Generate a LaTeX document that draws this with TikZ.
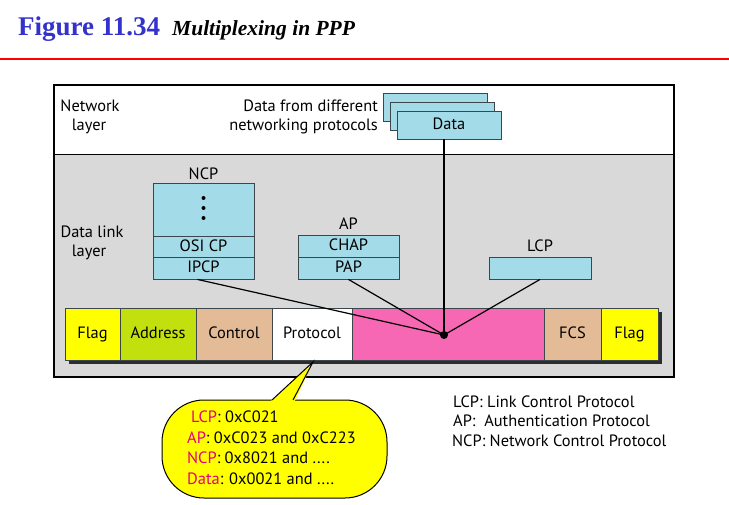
\documentclass[tikz,border=0pt]{standalone}
\usepackage{fontspec}
\setmainfont{PT Sans}
\newfontfamily\titlefont{Liberation Serif}
\definecolor{titleblue}{RGB}{51,51,204}
\definecolor{boxblue}{RGB}{164,219,232}
\definecolor{boxedge}{RGB}{60,70,75}
\definecolor{bggray}{RGB}{217,217,217}
\definecolor{fyellow}{RGB}{255,255,0}
\definecolor{fgreen}{RGB}{194,224,14}
\definecolor{ftan}{RGB}{228,187,151}
\definecolor{fpink}{RGB}{246,104,180}
\definecolor{shadowgray}{RGB}{45,45,45}
\definecolor{lblmag}{RGB}{228,0,124}
\begin{document}
\begin{tikzpicture}[x=1pt,y=-1pt,
  txt/.style={inner sep=0pt, font=\fontsize{16.4}{19}\selectfont},
  bluebox/.style={draw=boxedge, fill=boxblue, line width=0.9pt, inner sep=0pt,
    font=\fontsize{16.4}{19}\selectfont, text height=11.5pt, text depth=2pt},
  field/.style={draw=boxedge, line width=0.8pt, inner sep=0pt, minimum height=52pt,
    font=\fontsize{16.4}{19}\selectfont, text height=11.5pt, text depth=3.5pt},
  conn/.style={line width=1.2pt, black},
]
\useasboundingbox (0,0) rectangle (729,505);
% title
\node[anchor=base west, inner sep=0pt, text=titleblue,
  font=\titlefont\bfseries\fontsize{27}{30}\selectfont] (fig) at (18,36) {Figure 11.34};
\node[anchor=base west, inner sep=0pt,
  font=\titlefont\bfseries\itshape\fontsize{21.5}{25}\selectfont] (ttl) at (172,36) {Multiplexing in PPP};
\draw[red, line width=1.3pt] (0,59) -- (729,59);
% layers
\fill[white] (54,85) rectangle (674,155);
\fill[bggray] (54,155) rectangle (674,377);
\draw[line width=1pt] (54,155) -- (674,155);
\draw[line width=1.2pt] (54,85) rectangle (674,377);
\node[txt, anchor=base] (netl1) at (90,112) {Network};
\node[txt, anchor=base] (netl2) at (89,131) {layer};
\node[txt, anchor=base] (dll1) at (92,238) {Data link};
\node[txt, anchor=base] (dll2) at (89,257) {layer};
% data boxes
\node[bluebox, minimum width=104pt, minimum height=28pt] (datab) at (435,107) {};
\node[bluebox, minimum width=104pt, minimum height=28pt] (datam) at (442,116) {};
\node[bluebox, minimum width=104pt, minimum height=28pt] (dataf) at (449,125) {Data};
\node[txt, anchor=base east] (dfd1) at (378,112) {Data from different};
\node[txt, anchor=base east] (dfd2) at (378,131) {networking protocols};
% NCP
\node[txt, anchor=base] (ncplbl) at (203.5,180) {NCP};
\node[bluebox, minimum width=101pt, minimum height=53pt] (ncptop) at (203.5,209.5) {};
\fill (203.5,198) circle (2pt) (203.5,208) circle (2pt) (203.5,218) circle (2pt);
\node[bluebox, minimum width=101pt, minimum height=21pt] (osicp) at (203.5,246.5) {OSI CP};
\node[bluebox, minimum width=101pt, minimum height=22pt] (ipcp) at (203.5,268) {IPCP};
% AP
\node[txt, anchor=base] (aplbl) at (348.5,230) {AP};
\node[bluebox, minimum width=101pt, minimum height=22pt] (chap) at (348.5,246) {CHAP};
\node[bluebox, minimum width=101pt, minimum height=22pt] (pap) at (348.5,268) {PAP};
% LCP
\node[txt, anchor=base] (lcplbl) at (540,252) {LCP};
\node[bluebox, minimum width=102pt, minimum height=22pt] (lcp) at (540,268) {};
% frame
\fill[shadowgray] (69,312) rectangle (662,364);
\node[field, fill=fyellow, minimum width=55pt] (flag1) at (92.5,334) {Flag};
\node[field, fill=fgreen, minimum width=76pt] (addr) at (158,334) {Address};
\node[field, fill=ftan, minimum width=76pt] (ctrl) at (234,334) {Control};
\node[field, fill=white, minimum width=80pt] (proto) at (312,334) {Protocol};
\node[field, fill=fpink, minimum width=192pt] (payload) at (448,334) {};
\node[field, fill=ftan, minimum width=57pt] (fcs) at (572.5,334) {FCS};
\node[field, fill=fyellow, minimum width=57pt] (flag2) at (629.5,334) {Flag};
% connectors
\node[circle, fill=black, inner sep=0pt, minimum size=8pt] (dot) at (444,335) {};
\draw[conn] ([xshift=-6pt]ipcp.south) -- (dot.center);
\draw[conn] (pap.south) -- (dot.center);
\draw[conn] (lcp.south) -- (dot.center);
\draw[conn] (dot.center |- dataf.south) -- (dot.center);
% callout
\coordinate (tip) at (313,362);
\draw[fill=fyellow, line width=1pt, rounded corners=42pt] (162,400) rectangle (387,498);
\fill[fyellow] (270.5,401.5) -- (tip) -- (294.5,401.5) -- cycle;
\draw[line width=1pt] (272,400) -- (tip) -- (293,400);
\node[txt, anchor=base west] (c1) at (191,422) {\textcolor{lblmag}{LCP}: 0xC021};
\node[txt, anchor=base west] (c2) at (187,443) {\textcolor{lblmag}{AP}: 0xC023 and 0xC223};
\node[txt, anchor=base west] (c3) at (187,463) {\textcolor{lblmag}{NCP}: 0x8021 and ....};
\node[txt, anchor=base west] (c4) at (187,484) {\textcolor{lblmag}{Data}: 0x0021 and ....};
% legend
\node[txt, anchor=base west] (lg1) at (453,407) {LCP: Link Control Protocol};
\node[txt, anchor=base west] (lg2) at (453,426) {AP:~ Authentication Protocol};
\node[txt, anchor=base west] (lg3) at (452,446) {NCP: Network Control Protocol};
\end{tikzpicture}
\end{document}
